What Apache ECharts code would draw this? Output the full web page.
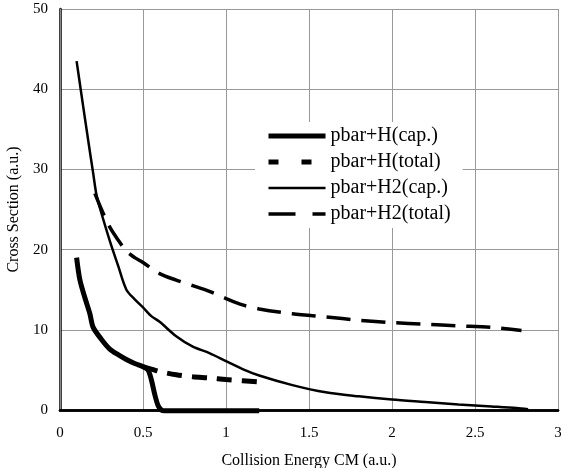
<!DOCTYPE html>
<html>
<head>
<meta charset="utf-8">
<script src="https://cdn.jsdelivr.net/npm/echarts@6/dist/echarts.min.js"></script>
<style>
html,body{margin:0;padding:0;background:#fff;}
#chart{width:561px;height:468px;}
</style>
</head>
<body>
<div id="chart"></div>
<script>
// Data
const seriesNames = ['pbar+H(cap.)', 'pbar+H(total)', 'pbar+H2(cap.)', 'pbar+H2(total)'];

const hCapX = [0.10, 0.12, 0.15, 0.18, 0.20, 0.25, 0.30, 0.35, 0.40, 0.45, 0.50, 0.53, 0.55, 0.57, 0.59, 0.61, 0.63, 0.70, 0.80, 1.00, 1.20];
const hCapY = [19.0, 16.2, 14.0, 12.0, 10.3, 8.8, 7.6, 6.9, 6.3, 5.8, 5.4, 5.0, 3.8, 2.0, 0.6, 0.0, -0.1, -0.1, -0.1, -0.1, -0.1];

const hTotX = [0.50, 0.55, 0.60, 0.70, 0.80, 0.90, 1.00, 1.10, 1.20];
const hTotY = [5.4, 5.1, 4.8, 4.4, 4.15, 4.0, 3.8, 3.65, 3.5];

const h2CapX = [0.10, 0.14, 0.17, 0.20, 0.22, 0.25, 0.30, 0.35, 0.40, 0.45, 0.50, 0.55, 0.60, 0.70, 0.80, 0.90, 1.00, 1.10, 1.20, 1.40, 1.60, 1.80, 2.00, 2.20, 2.40, 2.60, 2.75, 2.82];
const h2CapY = [43.5, 37.8, 33.6, 29.5, 26.8, 24.5, 21.1, 18.0, 15.0, 13.8, 12.8, 11.7, 11.0, 9.2, 7.9, 7.1, 6.1, 5.1, 4.3, 3.1, 2.2, 1.7, 1.3, 1.0, 0.7, 0.45, 0.25, 0.1];

const h2TotX = [0.21, 0.25, 0.30, 0.35, 0.40, 0.45, 0.50, 0.60, 0.70, 0.80, 0.90, 1.00, 1.10, 1.20, 1.40, 1.60, 1.80, 2.00, 2.20, 2.40, 2.60, 2.78];
const h2TotY = [27.0, 25.0, 22.8, 21.2, 19.8, 19.0, 18.4, 17.0, 16.2, 15.5, 14.8, 13.9, 13.1, 12.6, 12.0, 11.6, 11.2, 10.9, 10.7, 10.5, 10.3, 9.9];

const xTicks = [0, 0.5, 1, 1.5, 2, 2.5, 3];
const yTicks = [0, 10, 20, 30, 40, 50];

function pairs(xs, ys) { return xs.map((x, i) => [x, ys[i]]); }

const serif = 'Liberation Serif, Times New Roman, serif';
const chart = echarts.init(document.getElementById('chart'), null, {renderer: 'canvas'});
const noSym = {color: 'rgba(0,0,0,0)', borderWidth: 0, opacity: 0};

chart.setOption({
  animation: false,
  backgroundColor: '#fff',
  color: ['#000', '#000', '#000', '#000'],
  grid: {left: 60, right: 3, top: 9, bottom: 58, containLabel: false, outerBoundsMode: 'none'},
  legend: {
    show: true,
    orient: 'vertical',
    left: 255, top: 122,
    padding: [4, 12, 4, 11],
    backgroundColor: '#fff',
    itemWidth: 57, itemHeight: 14, itemGap: 6,
    textStyle: {fontFamily: serif, fontSize: 20, color: '#000'},
    itemStyle: noSym,
    data: [
      {name: seriesNames[0], itemStyle: noSym, lineStyle: {width: 5, type: 'solid', color: '#000'}},
      {name: seriesNames[1], itemStyle: noSym, lineStyle: {width: 5, type: [10, 23], color: '#000'}},
      {name: seriesNames[2], itemStyle: noSym, lineStyle: {width: 2.5, type: 'solid', color: '#000'}},
      {name: seriesNames[3], itemStyle: noSym, lineStyle: {width: 3.5, type: [27, 17], color: '#000'}}
    ]
  },
  xAxis: [{
    type: 'value', min: xTicks[0], max: xTicks[xTicks.length - 1], interval: 0.5,
    name: 'Collision Energy CM (a.u.)', nameLocation: 'middle', nameGap: 43,
    nameTextStyle: {fontFamily: serif, fontSize: 16, color: '#000'},
    axisLine: {show: true, onZero: false, lineStyle: {color: '#000', width: 2.5}},
    axisTick: {show: false},
    axisLabel: {margin: 16, fontFamily: serif, fontSize: 15, color: '#000'},
    splitLine: {show: true, lineStyle: {color: '#999', width: 1}}
  }, {
    type: 'value', position: 'top', min: 0, max: 3,
    axisLine: {show: true, lineStyle: {color: '#000', width: 2.5}},
    axisTick: {show: false}, axisLabel: {show: false}, splitLine: {show: false}
  }],
  yAxis: [{
    type: 'value', min: yTicks[0], max: yTicks[yTicks.length - 1], interval: 10,
    name: 'Cross Section (a.u.)', nameLocation: 'middle', nameGap: 37,
    nameTextStyle: {fontFamily: serif, fontSize: 16, color: '#000'},
    axisLine: {show: true, onZero: false, lineStyle: {color: '#000', width: 2.5}},
    axisTick: {show: false},
    axisLabel: {margin: 12, fontFamily: serif, fontSize: 15, color: '#000'},
    splitLine: {show: true, lineStyle: {color: '#999', width: 1}}
  }, {
    type: 'value', position: 'right', min: 0, max: 50,
    axisLine: {show: true, lineStyle: {color: '#888', width: 1}},
    axisTick: {show: false}, axisLabel: {show: false}, splitLine: {show: false}
  }],
  series: [
    {name: seriesNames[0], type: 'line', data: pairs(hCapX, hCapY), symbol: 'none', smooth: 0.3, clip: false,
     itemStyle: {color: '#000'}, lineStyle: {color: '#000', width: 5, type: 'solid'}, z: 4},
    {name: seriesNames[1], type: 'line', data: pairs(hTotX, hTotY), symbol: 'none', smooth: 0.3,
     itemStyle: {color: '#000'}, lineStyle: {color: '#000', width: 5, type: [15, 10]}, z: 3},
    {name: seriesNames[2], type: 'line', data: pairs(h2CapX, h2CapY), symbol: 'none', smooth: 0.3,
     itemStyle: {color: '#000'}, lineStyle: {color: '#000', width: 2.5, type: 'solid'}, z: 3},
    {name: seriesNames[3], type: 'line', data: pairs(h2TotX, h2TotY), symbol: 'none', smooth: 0.3,
     itemStyle: {color: '#000'}, lineStyle: {color: '#000', width: 3.5, type: [24, 11]}, z: 3}
  ]
});
</script>
</body>
</html>
